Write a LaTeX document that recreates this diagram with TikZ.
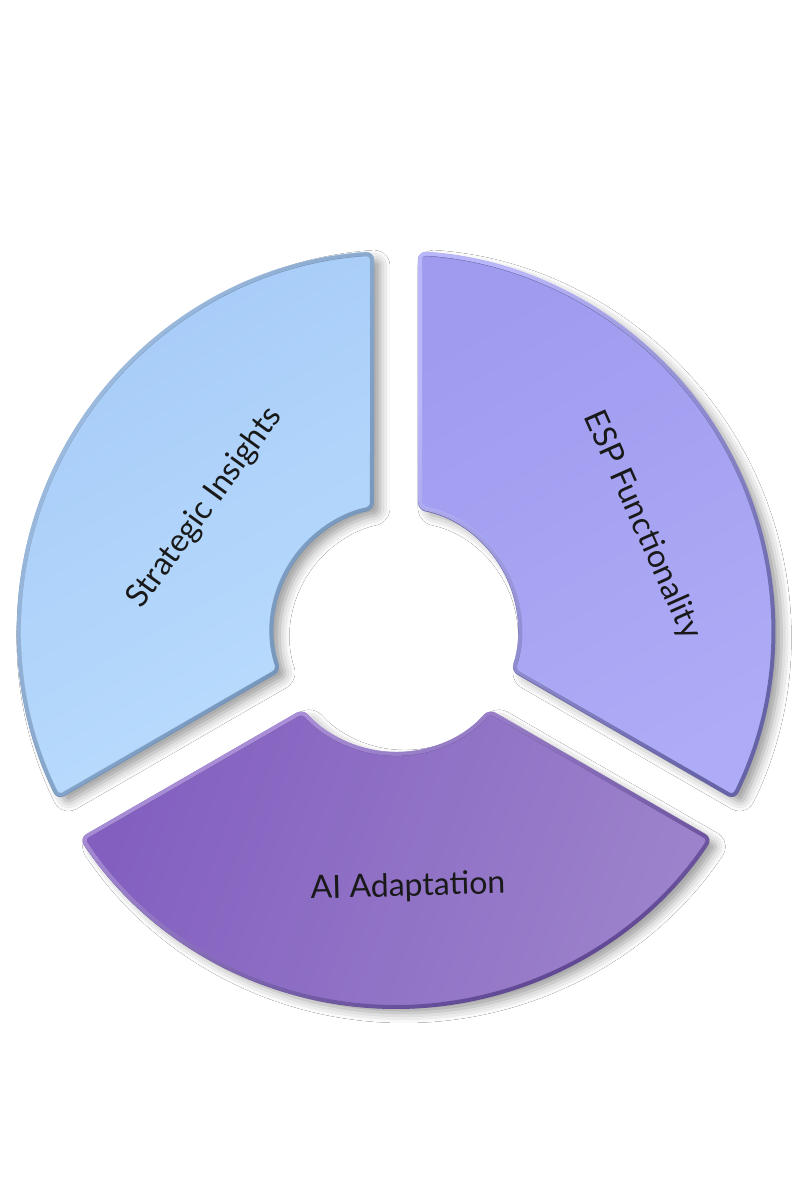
\documentclass[tikz,border=0pt]{standalone}
\usepackage{fontspec}
\setmainfont{Lato}
\usetikzlibrary{shadows.blur,fadings}
\definecolor{siTL}{HTML}{A6CBF7}
\definecolor{siBR}{HTML}{B9DCFD}
\definecolor{siLight}{HTML}{A4C2E4}
\definecolor{siDark}{HTML}{6F8FB6}
\definecolor{espTL}{HTML}{9F9BEF}
\definecolor{espBR}{HTML}{AEACF6}
\definecolor{espLight}{HTML}{BAB6FA}
\definecolor{espDark}{HTML}{6664A6}
\definecolor{aiTL}{HTML}{8360C0}
\definecolor{aiBR}{HTML}{9C82CB}
\definecolor{aiLight}{HTML}{AE93DC}
\definecolor{aiDark}{HTML}{5C4490}
\newcommand\ringseg[2]{(#1+3.65:377) arc[start angle=#1+3.65, end angle=#2-3.65, radius=377] -- (#2-11.16:124) arc[start angle=#2-11.16, end angle=#1+11.16, radius=124] -- cycle}
\tikzset{
  segshadow/.style={blur shadow={shadow xshift=4pt, shadow yshift=-3pt, shadow blur radius=5pt, shadow opacity=40}},
  segborder/.style={rounded corners=3pt, line width=2pt, draw=#1},
  seglight/.style={rounded corners=3pt, line width=2pt, draw=#1, path fading=north, fading angle=225},
  lbl/.style={font=\fontsize{16}{19}\selectfont, text=black!90}
}
\begin{document}
\begin{tikzpicture}[x=0.5pt,y=0.5pt]
\useasboundingbox[fill=white] (-396,-570) rectangle (404,630);
% Strategic Insights
\path[rounded corners=3pt, top color=siTL, bottom color=siBR, shading angle=30, segshadow] \ringseg{90}{210};
\draw[segborder=siDark] \ringseg{90}{210};
\draw[seglight=siLight] \ringseg{90}{210};
% ESP Functionality
\path[rounded corners=3pt, top color=espTL, bottom color=espBR, shading angle=30, segshadow] \ringseg{-30}{90};
\draw[segborder=espDark] \ringseg{-30}{90};
\draw[seglight=espLight] \ringseg{-30}{90};
% AI Adaptation
\path[rounded corners=3pt, top color=aiTL, bottom color=aiBR, shading angle=70, segshadow] \ringseg{210}{330};
\draw[segborder=aiDark] \ringseg{210}{330};
\draw[seglight=aiLight] \ringseg{210}{330};
% labels
\node[lbl, rotate=54] (si) at (-191,122) {Strategic Insights};
\node[lbl, rotate=-66] (esp) at (246,105) {ESP Functionality};
\node[lbl, rotate=1.5] (ai) at (12,-257) {AI Adaptation};
\end{tikzpicture}
\end{document}
